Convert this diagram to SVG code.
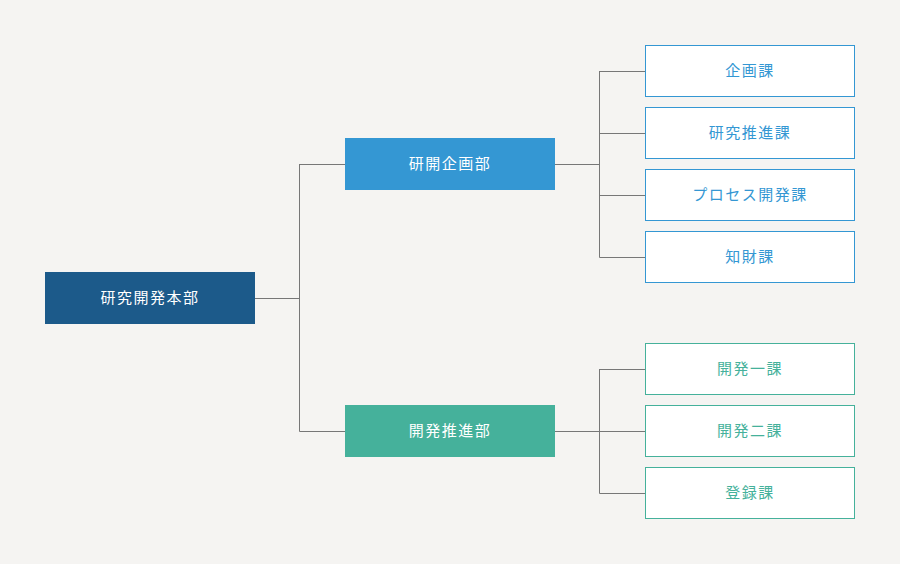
<svg xmlns="http://www.w3.org/2000/svg" width="900" height="564" viewBox="0 0 900 564">
<style>
text{font-family:"Noto Sans CJK JP","Noto Sans CJK SC",sans-serif;font-size:15px;text-anchor:middle;dominant-baseline:central;letter-spacing:1.5px}
.w{fill:#ffffff}
.lb{fill:#ffffff;stroke:#3497d3;stroke-width:1}
.lg{fill:#ffffff;stroke:#45b19b;stroke-width:1}
.tb{fill:#3497d3}
.tg{fill:#45b19b}
.c{fill:none;stroke:#777777;stroke-width:1}
</style>
<rect width="900" height="564" fill="#f5f4f2"/>
<g id="connectors">
<path class="c" d="M255 298.5H299.5M299.5 164V431.5M299.5 164.5H345M299.5 431.5H345"/>
<path class="c" d="M555 164.5H599.5M599.5 71V257.5M599.5 71.5H645M599.5 133.5H645M599.5 195.5H645M599.5 257.5H645"/>
<path class="c" d="M555 431.5H645M599.5 369V493.5M599.5 369.5H645M599.5 493.5H645"/>
</g>
<g id="root"><rect x="45" y="272" width="210" height="52" fill="#1c5a8a"/><text class="w" x="150" y="296">研究開発本部</text></g>
<g id="kenkai"><rect x="345" y="138" width="210" height="52" fill="#3497d3"/><text class="w" x="450" y="162">研開企画部</text></g>
<g id="kaihatsu"><rect x="345" y="405" width="210" height="52" fill="#45b19b"/><text class="w" x="450" y="429">開発推進部</text></g>
<g id="kikaku"><rect class="lb" x="645.5" y="45.5" width="209" height="51"/><text class="tb" x="750" y="69">企画課</text></g>
<g id="kenkyu"><rect class="lb" x="645.5" y="107.5" width="209" height="51"/><text class="tb" x="750" y="131">研究推進課</text></g>
<g id="process"><rect class="lb" x="645.5" y="169.5" width="209" height="51"/><text class="tb" x="750" y="193">プロセス開発課</text></g>
<g id="chizai"><rect class="lb" x="645.5" y="231.5" width="209" height="51"/><text class="tb" x="750" y="255">知財課</text></g>
<g id="kaihatsu1"><rect class="lg" x="645.5" y="343.5" width="209" height="51"/><text class="tg" x="750" y="367">開発一課</text></g>
<g id="kaihatsu2"><rect class="lg" x="645.5" y="405.5" width="209" height="51"/><text class="tg" x="750" y="429">開発二課</text></g>
<g id="toroku"><rect class="lg" x="645.5" y="467.5" width="209" height="51"/><text class="tg" x="750" y="491">登録課</text></g>
</svg>
